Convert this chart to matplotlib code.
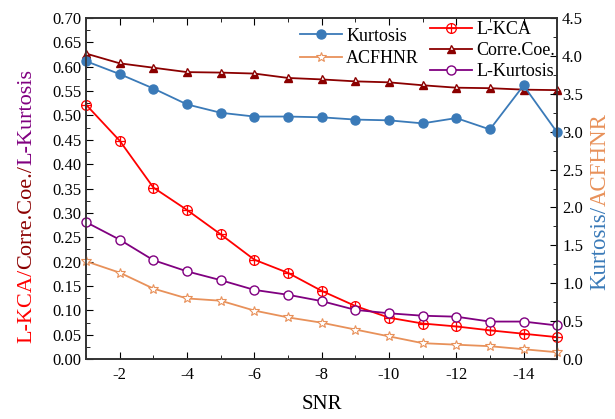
import numpy as np
import matplotlib
matplotlib.use("Agg")
import matplotlib.pyplot as plt
from matplotlib.path import Path
from matplotlib.ticker import MultipleLocator

snr = [-1, -2, -3, -4, -5, -6, -7, -8, -9, -10, -11, -12, -13, -14, -15]
# left axis series
l_kca = [0.522, 0.448, 0.352, 0.306, 0.256, 0.204, 0.177, 0.140, 0.109, 0.085, 0.073, 0.067, 0.059, 0.052, 0.045]
corre_coe = [0.627, 0.607, 0.598, 0.589, 0.588, 0.586, 0.577, 0.574, 0.570, 0.568, 0.562, 0.557, 0.556, 0.553, 0.552]
l_kurtosis = [0.281, 0.245, 0.203, 0.180, 0.162, 0.142, 0.132, 0.119, 0.101, 0.094, 0.089, 0.087, 0.077, 0.077, 0.069]
# right axis series
kurtosis = [3.93, 3.76, 3.57, 3.36, 3.25, 3.20, 3.20, 3.19, 3.16, 3.15, 3.11, 3.18, 3.03, 3.61, 2.99]
acfhnr = [1.29, 1.14, 0.93, 0.80, 0.77, 0.64, 0.55, 0.48, 0.39, 0.30, 0.21, 0.19, 0.17, 0.13, 0.09]

plt.rcParams['font.family'] = ['Liberation Serif', 'DejaVu Serif']
plt.rcParams['axes.unicode_minus'] = False
plt.rcParams['xtick.direction'] = 'in'
plt.rcParams['ytick.direction'] = 'in'

c_red = '#ff0000'
c_dred = '#8b0000'
c_purple = '#800080'
c_blue = '#3a7ab8'
c_orange = '#e8915a'

# circle with a cross inside
oplus = Path.make_compound_path(
    Path.unit_circle(),
    Path([[-1, 0], [1, 0]], [Path.MOVETO, Path.LINETO]),
    Path([[0, -1], [0, 1]], [Path.MOVETO, Path.LINETO]))

fig = plt.figure(figsize=(6.15, 4.19), dpi=100)
ax = fig.add_axes([0.140, 0.143, 0.766, 0.814])
ax2 = ax.twinx()

l1, = ax.plot(snr, l_kca, color=c_red, lw=1.3, marker=oplus, ms=7,
              mfc='none', mec=c_red, mew=0.9, label='L-KCA', clip_on=False, zorder=3)
l2, = ax.plot(snr, corre_coe, color=c_dred, lw=1.3, marker='^', ms=6,
              fillstyle='bottom', mfc=c_dred, mfcalt='white', mec=c_dred,
              label='Corre.Coe.', clip_on=False, zorder=3)
l3, = ax.plot(snr, l_kurtosis, color=c_purple, lw=1.3, marker='o', ms=6.5,
              mfc='white', mec=c_purple, label='L-Kurtosis', clip_on=False, zorder=3)
r1, = ax2.plot(snr, kurtosis, color=c_blue, lw=1.3, marker='o', ms=6.5,
               mfc=c_blue, mec=c_blue, label='Kurtosis', clip_on=False)
r2, = ax2.plot(snr, acfhnr, color=c_orange, lw=1.3, marker='*', ms=7.5,
               mfc='white', mec=c_orange, mew=0.8, label='ACFHNR', clip_on=False)

ax.set_xlim(-1, -15)
ax.set_ylim(0, 0.70)
ax2.set_ylim(0, 4.5)
ax.set_xticks([-2, -4, -6, -8, -10, -12, -14])
ax.xaxis.set_minor_locator(MultipleLocator(1))
ax.yaxis.set_major_locator(MultipleLocator(0.05))
ax.yaxis.set_minor_locator(MultipleLocator(0.025))
ax2.yaxis.set_major_locator(MultipleLocator(0.5))
ax2.yaxis.set_minor_locator(MultipleLocator(0.25))
ax.yaxis.set_major_formatter(plt.FuncFormatter(lambda v, p: f"{v:.2f}"))
ax2.yaxis.set_major_formatter(plt.FuncFormatter(lambda v, p: f"{v:.1f}"))

ax.tick_params(axis='x', which='both', top=True, labelsize=12, pad=6)
ax.tick_params(axis='y', which='both', labelsize=12)
ax2.tick_params(axis='y', which='both', labelsize=12)
for a in (ax, ax2):
    a.tick_params(which='major', length=5)
    a.tick_params(which='minor', length=3)
    for s in a.spines.values():
        s.set_linewidth(1.2)
        s.set_color('#333333')

ax.set_xlabel('SNR', fontsize=15, labelpad=8)

# multi-coloured axis labels, pieces stacked bottom to top
def place(parts, x, y_bottom, size):
    prev = None
    for txt, col in parts:
        if prev is None:
            prev = fig.text(x, y_bottom, txt, color=col, rotation=90,
                            fontsize=size, ha='center', va='bottom')
        else:
            prev = ax.annotate(txt, xy=(0.5, 1.0), xycoords=prev, color=col,
                               rotation=90, fontsize=size, ha='center', va='bottom',
                               annotation_clip=False)

place([('L-KCA/', c_red), ('Corre.Coe./', c_dred), ('L-Kurtosis', c_purple)],
      0.044, 0.181, 16)
place([('Kurtosis/', c_blue), ('ACFHNR', c_orange)], 0.976, 0.308, 16.5)

leg1 = ax2.legend(handles=[r1, r2], loc='upper left', bbox_to_anchor=(0.454, 0.972),
                  frameon=False, fontsize=13, handlelength=2.3, borderpad=0,
                  borderaxespad=0, labelspacing=0.3, handletextpad=0.25)
ax2.add_artist(leg1)
leg2 = ax2.legend(handles=[l1, l2, l3], loc='upper left', bbox_to_anchor=(0.730, 0.99),
                  frameon=False, fontsize=13, handlelength=2.3, borderpad=0,
                  borderaxespad=0, labelspacing=0.22, handletextpad=0.25)

fig.savefig('out.png', dpi=100)
